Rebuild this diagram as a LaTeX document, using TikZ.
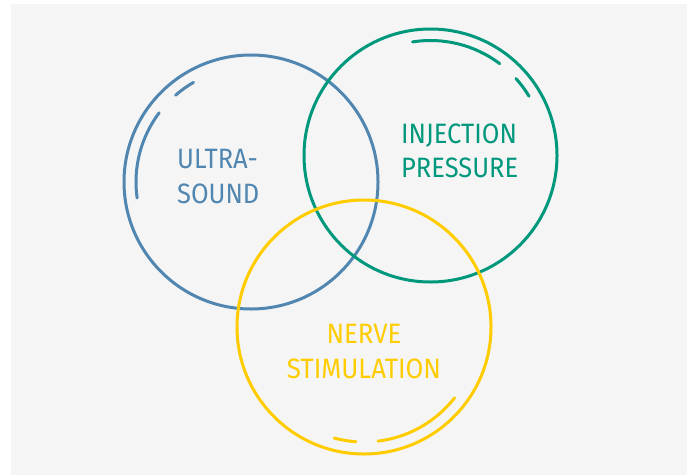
\documentclass[tikz,border=0pt]{standalone}
\usepackage{fontspec}
\setmainfont{Fira Sans}
\usepackage{tikz}

\definecolor{usblue}{RGB}{80,134,176}
\definecolor{injgreen}{RGB}{0,152,124}
\definecolor{nsyellow}{RGB}{255,204,0}
\definecolor{bggray}{RGB}{245,245,245}

\begin{document}
\begin{tikzpicture}[x=1pt,y=1pt,
  every node/.style={font=\fontsize{28}{34}\selectfont},
  ring/.style={draw,circle,line width=3pt,minimum size=254pt,inner sep=0pt},
  tick/.style={line width=3pt,line cap=round},
  lbl/.style={anchor=base west,inner sep=0pt,xscale=0.91},
  clbl/.style={anchor=base,inner sep=0pt,xscale=0.92}]

  % background
  \useasboundingbox (0,0) rectangle (687,475);
  \fill[bggray] (11,0) rectangle (687,471);

  % circles
  \node[ring,draw=usblue] (us) at (251,293) {};
  \node[ring,draw=injgreen,minimum size=253pt] (inj) at (430.5,319.5) {};
  \node[ring,draw=nsyellow] (ns) at (364,148) {};

  % inner arcs
  \draw[tick,usblue] ([shift={(120:115)}]us.center) arc[start angle=120,end angle=131,radius=115];
  \draw[tick,usblue] ([shift={(143:115)}]us.center) arc[start angle=143,end angle=188,radius=115];
  \draw[tick,injgreen] ([shift={(31:115)}]inj.center) arc[start angle=31,end angle=42,radius=115];
  \draw[tick,injgreen] ([shift={(53:115)}]inj.center) arc[start angle=53,end angle=99,radius=115];
  \draw[tick,nsyellow] ([shift={(-105:115)}]ns.center) arc[start angle=-105,end angle=-94,radius=115];
  \draw[tick,nsyellow] ([shift={(-83:115)}]ns.center) arc[start angle=-83,end angle=-38,radius=115];

  % labels
  \node[lbl,text=usblue] (us1) at (177,307) {ULTRA-};
  \node[lbl,text=usblue] (us2) at (177,272) {SOUND};
  \node[lbl,text=injgreen] (inj1) at (401,332) {INJECTION};
  \node[lbl,text=injgreen] (inj2) at (401,298) {PRESSURE};
  \node[clbl,text=nsyellow] (ns1) at (364,132) {NERVE};
  \node[clbl,text=nsyellow] (ns2) at (364,97) {STIMULATION};

\end{tikzpicture}
\end{document}
